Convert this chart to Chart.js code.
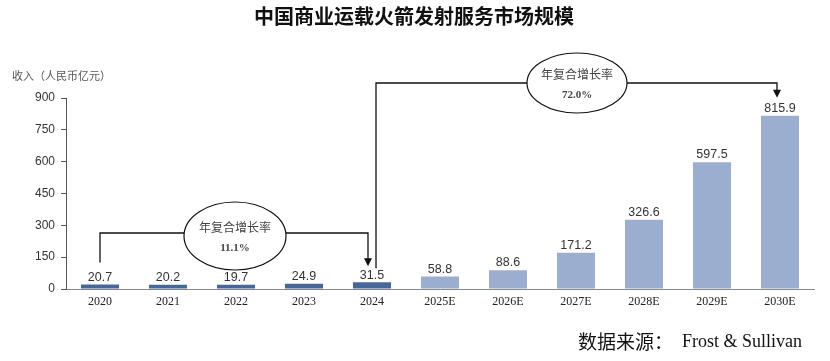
<!DOCTYPE html>
<html><head><meta charset="utf-8">
<script src="https://cdn.jsdelivr.net/npm/chart.js@4/dist/chart.umd.min.js"></script>
<style>html,body{margin:0;padding:0;background:#fff}#wrap{width:830px;height:361px;position:relative}</style>
</head><body><div id="wrap"><canvas id="c" width="830" height="361"></canvas></div>
<script>
const categories = ['2020','2021','2022','2023','2024','2025E','2026E','2027E','2028E','2029E','2030E'];
const revenue = [20.7, 20.2, 19.7, 24.9, 31.5, 58.8, 88.6, 171.2, 326.6, 597.5, 815.9];
const yTicks = [0,150,300,450,600,750,900];
const cagr1 = {from:'2020', to:'2024', text:'年复合增长率', value:'11.1%'};
const cagr2 = {from:'2024', to:'2030E', text:'年复合增长率', value:'72.0%'};
const titleText = '中国商业运载火箭发射服务市场规模';
const yAxisTitle = '收入（人民币亿元）';
const sourceCn = '数据来源：';
const sourceEn = 'Frost & Sullivan';

const histColor = '#45679c', fcstColor = '#9baed0';
const CJK = '"Noto Sans CJK SC", sans-serif';

const overlay = {
  id:'overlay',
  afterDatasetsDraw(chart){
    const ctx = chart.ctx;
    const meta = chart.getDatasetMeta(0);
    ctx.save();
    // data labels
    ctx.fillStyle = '#333';
    ctx.font = '12.5px "Liberation Sans", Arial, sans-serif';
    ctx.textAlign = 'center'; ctx.textBaseline = 'bottom';
    meta.data.forEach((b,i)=>{ ctx.fillText(revenue[i].toFixed(1), b.x, b.y - 1); });
    // title
    ctx.fillStyle = '#111';
    ctx.font = 'bold 20px ' + CJK;
    ctx.textBaseline = 'middle';
    ctx.fillText(titleText, 414, 16);
    // y-axis title
    ctx.fillStyle = '#555';
    ctx.font = '11px ' + CJK;
    ctx.textAlign = 'left';
    ctx.fillText(yAxisTitle, 12, 76);
    // source
    ctx.fillStyle = '#111';
    ctx.font = '19px "Noto Sans CJK SC", serif';
    ctx.fillText(sourceCn, 578, 342);
    ctx.font = '18px "Liberation Serif", serif';
    ctx.fillText(sourceEn, 682, 342);

    const i0 = categories.indexOf(cagr1.from);
    const i4 = categories.indexOf(cagr1.to);
    const i10 = categories.indexOf(cagr2.to);
    const arrowHead = (x, tipY) => {
      ctx.fillStyle = '#111';
      ctx.beginPath(); ctx.moveTo(x-4, tipY-8); ctx.lineTo(x+4, tipY-8); ctx.lineTo(x, tipY); ctx.closePath(); ctx.fill();
    };
    const bubble = (cx, cy, rx, ry, c) => {
      ctx.fillStyle = '#fff'; ctx.strokeStyle = '#111'; ctx.lineWidth = 1.2;
      ctx.beginPath(); ctx.ellipse(cx, cy, rx, ry, 0, 0, Math.PI*2); ctx.fill(); ctx.stroke();
      ctx.fillStyle = '#444'; ctx.textAlign = 'center'; ctx.textBaseline = 'middle';
      ctx.font = '12px ' + CJK;
      ctx.fillText(c.text, cx, cy - 9);
      ctx.font = 'bold 11px "Liberation Serif", serif';
      ctx.fillText(c.value, cx, cy + 12);
    };
    ctx.strokeStyle = '#111'; ctx.lineWidth = 1.3;
    // bracket 1 (2020 -> 2024)
    const xa = meta.data[i0].x, xb = meta.data[i4].x - 4;
    const lbl4Top = meta.data[i4].y - 16;
    ctx.beginPath();
    ctx.moveTo(xa, meta.data[i0].y - 22); ctx.lineTo(xa, 233); ctx.lineTo(xb, 233); ctx.lineTo(xb, lbl4Top - 6);
    ctx.stroke();
    arrowHead(xb, lbl4Top);
    bubble(235, 236, 51, 34, cagr1);
    // bracket 2 (2024 -> 2030E)
    const xc = meta.data[i4].x + 4, xd = meta.data[i10].x - 3;
    const lbl10Top = meta.data[i10].y - 18;
    ctx.strokeStyle = '#111'; ctx.lineWidth = 1.3;
    ctx.beginPath();
    ctx.moveTo(xc, lbl4Top + 2); ctx.lineTo(xc, 83); ctx.lineTo(xd, 83); ctx.lineTo(xd, lbl10Top - 6);
    ctx.stroke();
    arrowHead(xd, lbl10Top);
    bubble(577, 83, 50, 30, cagr2);
    ctx.restore();
  }
};

new Chart(document.getElementById('c'), {
  type:'bar',
  data:{ labels: categories, datasets:[{
    data: revenue,
    backgroundColor: categories.map(c => c.endsWith('E') ? fcstColor : histColor),
    barPercentage: 0.56, categoryPercentage: 1.0, borderWidth: 0
  }]},
  options:{
    responsive:false, animation:false,
    layout:{ padding:{ top:98, right:16, bottom:0, left:0 } },
    plugins:{ legend:{display:false}, tooltip:{enabled:false}, title:{display:false} },
    scales:{
      x:{
        grid:{ display:false },
        border:{ display:true, color:'#888', width:1 },
        ticks:{ color:'#222', font:{ family:'"Liberation Serif", serif', size:12 }, padding:-2, maxRotation:0 },
        afterFit(s){ s.height = 72; }
      },
      y:{
        min:0, max:900,
        afterBuildTicks(s){ s.ticks = yTicks.map(v=>({value:v})); },
        grid:{ drawOnChartArea:false, drawTicks:true, tickLength:5, color:'#555' },
        border:{ display:true, color:'#555', width:1 },
        ticks:{ color:'#333', font:{ family:'"Liberation Sans", Arial, sans-serif', size:12 }, padding:6 },
        afterFit(s){ s.width = 66; }
      }
    }
  },
  plugins:[overlay]
});
</script></body></html>
